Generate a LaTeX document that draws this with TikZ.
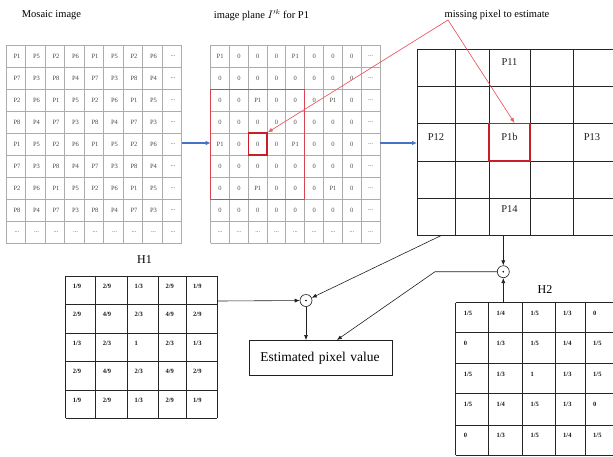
\documentclass[tikz,border=0pt]{standalone}
\usepackage{fontspec}
\setmainfont{Liberation Serif}
\usetikzlibrary{arrows.meta}
\newcommand{\gd}{...}
\begin{document}
\begin{tikzpicture}[x=1pt,y=-1pt,
  gridline/.style={draw=gray!65, line width=0.9pt},
  darkline/.style={draw=gray!30!black, line width=1pt},
  mtext/.style={inner sep=0pt, font=\fontsize{6.5}{7}\selectfont, text=gray!55!black},
  ztext/.style={inner sep=0pt, font=\fontsize{6.5}{7}\selectfont, text=gray!60!black},
  ptext/.style={inner sep=0pt, font=\fontsize{10.5}{12}\selectfont, text=gray!25!black},
  htext/.style={inner sep=0pt, anchor=west, font=\bfseries\fontsize{6.5}{7}\selectfont, text=gray!20!black},
  lbl/.style={inner sep=0pt, font=\fontsize{10.5}{12}\selectfont},
  hlbl/.style={inner sep=0pt, font=\fontsize{12}{14}\selectfont},
  arr/.style={-{Latex[length=5pt,width=4pt]}, draw=gray!25!black, line width=0.6pt},
  bluearr/.style={-{Latex[length=5pt,width=4.5pt]}, draw={rgb,255:red,68;green,114;blue,196}, line width=1.3pt},
  redarr/.style={-{Latex[length=5pt,width=4pt]}, draw={rgb,255:red,235;green,90;blue,100}, fill={rgb,255:red,235;green,40;blue,50}, line width=0.6pt},
  redbox/.style={draw={rgb,255:red,200;green,30;blue,40}, line width=1.3pt, inner sep=0pt},
  odot/.style={circle, draw=gray!20!black, line width=0.6pt, minimum size=12pt, inner sep=0pt,
    path picture={\fill[black] (path picture bounding box.center) circle (0.9pt);}}]
\useasboundingbox (0,0) rectangle (613,456);

% ---------- labels
\node[lbl] (lmos) at (51.5,15) {Mosaic image};
\node[lbl] (lplane) at (261.5,15) {image plane $I'^k$ for P1};
\node[lbl] (lmiss) at (497,15) {missing pixel to estimate};
\coordinate (miss) at (448,20);

% ---------- mosaic grid
\foreach \i in {0,...,9} {
  \draw[gridline] ({6+19.5*\i},45) -- ({6+19.5*\i},243);
  \draw[gridline] (6,{45+22*\i}) -- (181.5,{45+22*\i});
}
\foreach \row [count=\rr from 0] in {
  {P1,P5,P2,P6,P1,P5,P2,P6,\gd},
  {P7,P3,P8,P4,P7,P3,P8,P4,\gd},
  {P2,P6,P1,P5,P2,P6,P1,P5,\gd},
  {P8,P4,P7,P3,P8,P4,P7,P3,\gd},
  {P1,P5,P2,P6,P1,P5,P2,P6,\gd},
  {P7,P3,P8,P4,P7,P3,P8,P4,\gd},
  {P2,P6,P1,P5,P2,P6,P1,P5,\gd},
  {P8,P4,P7,P3,P8,P4,P7,P3,\gd},
  {\gd,\gd,\gd,\gd,\gd,\gd,\gd,\gd,\gd}} {
  \foreach \t [count=\cc from 0] in \row {
    \node[mtext] (m-\rr-\cc) at ({6+19.5*\cc+11},{45+22*\rr+11}) {\t};
  }
}
\coordinate (mosR) at (181.5,143);

% ---------- image plane grid
\foreach \i in {0,...,9} {
  \draw[gridline] ({210.7+18.81*\i},45) -- ({210.7+18.81*\i},243);
  \draw[gridline] (210.7,{45+22*\i}) -- (380,{45+22*\i});
}
\foreach \row [count=\rr from 0] in {
  {P1,0,0,0,P1,0,0,0,\gd},
  {0,0,0,0,0,0,0,0,\gd},
  {0,0,P1,0,0,0,P1,0,\gd},
  {0,0,0,0,0,0,0,0,\gd},
  {P1,0,0,0,P1,0,0,0,\gd},
  {0,0,0,0,0,0,0,0,\gd},
  {0,0,P1,0,0,0,P1,0,\gd},
  {0,0,0,0,0,0,0,0,\gd},
  {\gd,\gd,\gd,\gd,\gd,\gd,\gd,\gd,\gd}} {
  \foreach \t [count=\cc from 0] in \row {
    \node[ztext] (z-\rr-\cc) at ({210.7+18.81*\cc+9.4},{45+22*\rr+11}) {\t};
  }
}
\node[draw={rgb,255:red,215;green,70;blue,80}, line width=0.8pt, inner sep=0pt,
  minimum width=94.05pt, minimum height=110pt] (win) at (257.7,144) {};
\node[redbox, minimum width=18.8pt, minimum height=22pt] (sq) at (257.7,144) {};
\coordinate (planeL) at (210.7,143);
\coordinate (planeR) at (380,143);

% ---------- right grid
\foreach \x in {417,455,489,530,573} \draw[darkline] (\x,49) -- (\x,235.6);
\foreach \y in {49,86.3,123.6,161,198.3,235.6} \draw[darkline] (417,\y) -- (613,\y);
\node[redbox, minimum width=41pt, minimum height=37.4pt] (p1b) at (509.5,142.3) {};
\node[ptext] (t11) at (509.5,61.7) {P11};
\node[ptext] (t12) at (436,136.7) {P12};
\node[ptext] (t1b) at (509.5,136.7) {P1b};
\node[ptext] (t13) at (592,136.7) {P13};
\node[ptext] (t14) at (509.5,209.3) {P14};
\coordinate (rgL) at (417,143);
\coordinate (rgA) at (441,235.6);
\coordinate (rgB) at (503.3,235.6);

% ---------- H1
\node[hlbl] (lh1) at (144.5,260) {H1};
\foreach \x in {65.7,95.7,127.3,158.3,186,217.3} \draw[darkline] (\x,276) -- (\x,418.3);
\foreach \y in {276,304.3,333.3,361.7,390,418.3} \draw[darkline] (65.7,\y) -- (217.3,\y);
\foreach \row [count=\rr from 0] in {
  {1/9,2/9,1/3,2/9,1/9},
  {2/9,4/9,2/3,4/9,2/9},
  {1/3,2/3,1,2/3,1/3},
  {2/9,4/9,2/3,4/9,2/9},
  {1/9,2/9,1/3,2/9,1/9}} {
  \foreach \t [count=\cc from 0] in \row {
    \pgfmathsetmacro{\xx}{{65.7,95.7,127.3,158.3,186}[\cc]}
    \pgfmathsetmacro{\yy}{{276,304.3,333.3,361.7,390}[\rr]}
    \node[htext] (h1-\rr-\cc) at (\xx+7,\yy+10) {\t};
  }
}
\coordinate (h1R) at (217.3,301);

% ---------- H2
\node[hlbl] (lh2) at (545,290) {H2};
\foreach \x in {455.7,488.3,522.3,555,585} \draw[darkline] (\x,302.7) -- (\x,455.3);
\foreach \y in {302.7,332.7,363.3,393.3,425,455.3} \draw[darkline] (455.7,\y) -- (613,\y);
\foreach \row [count=\rr from 0] in {
  {1/5,1/4,1/5,1/3,0},
  {0,1/3,1/5,1/4,1/5},
  {1/5,1/3,1,1/3,1/5},
  {1/5,1/4,1/5,1/3,0},
  {0,1/3,1/5,1/4,1/5}} {
  \foreach \t [count=\cc from 0] in \row {
    \pgfmathsetmacro{\xx}{{455.7,488.3,522.3,555,585}[\cc]}
    \pgfmathsetmacro{\yy}{{302.7,332.7,363.3,393.3,425}[\rr]}
    \node[htext] (h2-\rr-\cc) at (\xx+8,\yy+10.6) {\t};
  }
}
\coordinate (h2T) at (503.3,302.7);

% ---------- operators and result
\node[odot] (o1) at (306,300.5) {};
\node[odot] (o2) at (503.3,271.7) {};
\node[draw=gray!25!black, line width=0.7pt, anchor=north west, inner xsep=11pt, inner ysep=0pt,
  text width=121pt, minimum height=35pt, align=left,
  font=\fontsize{13.5}{15}\selectfont] (est) at (249,340) {Estimated pixel value};
\coordinate (bend) at (435,271.7);

% ---------- connectors
\draw[bluearr] (mosR) -- (planeL);
\draw[bluearr] (planeR) -- (rgL);
\draw[redarr] (miss) -- (sq.north east);
\draw[redarr] (miss) -- ([xshift=5pt]p1b.north);
\draw[arr] (h1R) -- (o1);
\draw[arr] (rgA) -- (o1);
\draw[arr] (o1) -- (o1 |- est.north);
\draw[arr] (o2) -- (bend) -- ([xshift=16pt]est.north);
\draw[arr] (rgB) -- (o2);
\draw[arr] (h2T) -- (o2);
\end{tikzpicture}
\end{document}
